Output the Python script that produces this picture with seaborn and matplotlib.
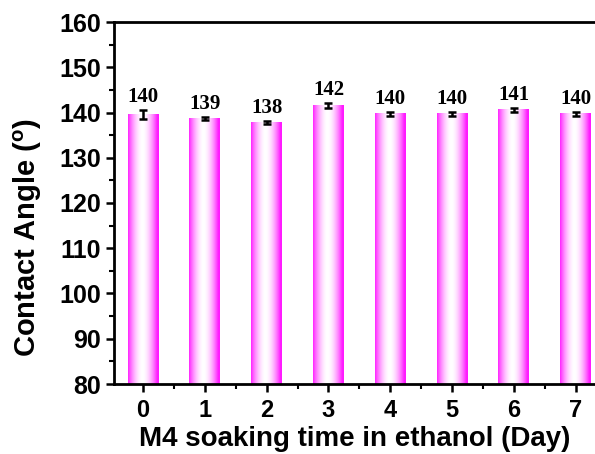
import numpy as np
import pandas as pd
import matplotlib
matplotlib.use("Agg")
import matplotlib.pyplot as plt
import seaborn as sns
from matplotlib.colors import LinearSegmentedColormap

# contact angle after soaking in ethanol
days = ["0", "1", "2", "3", "4", "5", "6", "7"]
angle = [139.5, 138.7, 137.8, 141.6, 139.7, 139.7, 140.6, 139.7]
err = [1.0, 0.4, 0.4, 0.5, 0.5, 0.4, 0.5, 0.4]
labels = ["140", "139", "138", "142", "140", "140", "141", "140"]

df = pd.DataFrame({"day": days, "angle": angle})

sns.set_style("ticks", {"axes.edgecolor": "black", "text.color": "black",
                        "xtick.color": "black", "ytick.color": "black",
                        "axes.labelcolor": "black"})
plt.rcParams["font.family"] = ["Liberation Sans", "DejaVu Sans"]

fig = plt.figure(figsize=(5.95, 4.54), dpi=100)
ax = fig.add_axes([114/595, 70/454, 1.0 - 114/595 + 0.03, 362/454])

ymin, ymax = 80, 160
sns.barplot(data=df, x="day", y="angle", color="white", width=0.5,
            errorbar=None, ax=ax, zorder=2)

# magenta -> white -> magenta gradient inside each bar
cmap = LinearSegmentedColormap.from_list("mg", ["#ffffff", "#ff1aff"])
t = np.linspace(0, 1, 200)
prof = np.clip(np.abs(t - 0.47) / 0.48, 0, 1) ** 1.8
grad = prof[np.newaxis, :]
for p in ax.patches:
    x0 = p.get_x()
    w = p.get_width()
    h = p.get_height()
    ax.imshow(grad, cmap=cmap, vmin=0, vmax=1, aspect="auto",
              extent=[x0, x0 + w, ymin, h], zorder=2.5, interpolation="bilinear")
    p.set_edgecolor("none")

xs = np.arange(len(days))
ax.errorbar(xs, angle, yerr=err, fmt="none", ecolor="black", elinewidth=1.8,
            capsize=3, capthick=1.8, zorder=4)

for x, v, e, s in zip(xs, angle, err, labels):
    ax.annotate(s, (x, v + e), xytext=(0, 2), textcoords="offset points",
                ha="center", va="bottom", fontsize=15, fontweight="bold",
                color="black", family=["Liberation Serif", "DejaVu Serif"])

ax.set_ylim(ymin, ymax)
ax.set_xlim(-0.47, 7.6)
ax.set_yticks(np.arange(80, 161, 10))
ax.set_yticks(np.arange(85, 160, 10), minor=True)
ax.set_xticks(np.arange(0.5, 7.5, 1), minor=True)

ax.set_xlabel("M4 soaking time in ethanol (Day)", fontsize=20, fontweight="bold", color="black")
ax.set_ylabel("Contact Angle ($^{\\mathregular{o}}$)", fontsize=21, fontweight="bold", color="black")
ax.xaxis.set_label_coords(0.483, -0.116)
ax.yaxis.set_label_coords(-0.14, 0.405)

for lab in ax.get_xticklabels() + ax.get_yticklabels():
    lab.set_fontweight("bold")
ax.tick_params(axis="y", which="major", labelsize=18)
ax.tick_params(axis="x", which="major", labelsize=17)
ax.tick_params(axis="both", which="major", width=1.8, length=6, direction="out",
               colors="black")
ax.tick_params(axis="both", which="minor", width=1.5, length=3.5, direction="out",
               colors="black")
ax.tick_params(axis="x", pad=5)

for side in ["left", "bottom", "top"]:
    ax.spines[side].set_linewidth(2)
    ax.spines[side].set_color("black")
    ax.spines[side].set_visible(True)
ax.spines["right"].set_visible(False)
ax.set_facecolor("white")

fig.savefig("out.png", dpi=100)
